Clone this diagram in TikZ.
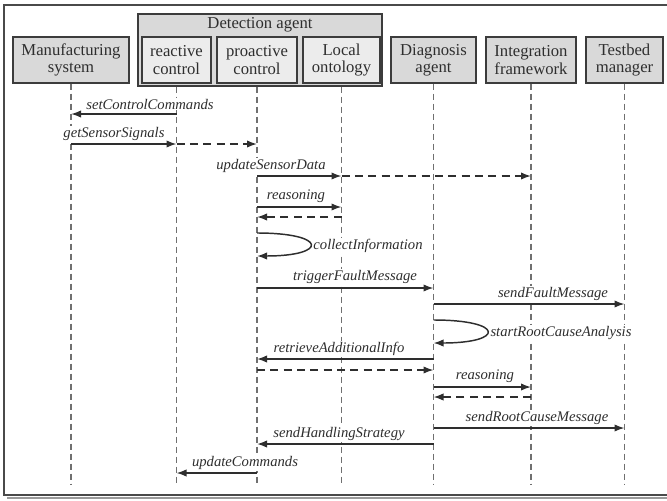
\documentclass[tikz,border=0pt]{standalone}
\usepackage{fontspec}
\setmainfont{Liberation Serif}
\usepackage{xcolor}
\usepackage{tikz}
\usetikzlibrary{arrows.meta}
\definecolor{boxline}{HTML}{3C3C3C}
\definecolor{lanefill}{HTML}{D9D9D9}
\definecolor{subfill}{HTML}{ECECEC}
\definecolor{lifegray}{HTML}{707070}
\definecolor{msgcol}{HTML}{2E2E2E}
\definecolor{framegray}{HTML}{4A4A4A}
\definecolor{shadowgray}{HTML}{9A9A9A}

\begin{document}
\begin{tikzpicture}[x=0.75pt,y=0.75pt,yscale=-1,xscale=1,
  lane/.style={draw=boxline,fill=lanefill,line width=0.8pt,align=center,inner sep=0pt,
    minimum height=34.5pt,font=\fontsize{12.5}{13}\selectfont,text=msgcol},
  sublane/.style={lane,fill=subfill},
  lifeline/.style={draw=lifegray,line width=0.8pt,dash pattern=on 4.5pt off 3pt},
  call/.style={draw=msgcol,line width=1.1pt,-{Latex[length=7.5pt,width=5.5pt]}},
  reply/.style={call,dash pattern=on 6pt off 4pt},
  msglbl/.style={font=\fontsize{11}{13}\selectfont\itshape,text=msgcol,fill=white,inner sep=1pt}]
\useasboundingbox (0,0) rectangle (667,500);
%Frame
\draw [draw=shadowgray,line width=2pt] (7,498) -- (680,498) ;
\draw [draw=framegray,line width=1.2pt] (680,5) -- (4,5) -- (4,495) -- (680,495) ;
% Lanes
\node [lane,minimum width=87pt] (ms) at (71,60) {Manufacturing\\system};
\node [lane,minimum width=183pt,minimum height=54pt] (det) at (260,50) {};
\node [font=\fontsize{12.5}{13}\selectfont,text=msgcol] (dettxt) at (260,25) {Detection agent};
\node [sublane,minimum width=51.75pt] (rc) at (176.5,60) {reactive\\control};
\node [sublane,minimum width=60pt] (pc) at (257,60) {proactive\\control};
\node [sublane,minimum width=57.75pt] (lo) at (341.5,60) {Local\\ontology};
\node [lane,minimum width=63.75pt] (da) at (433.5,60) {Diagnosis\\agent};
\node [lane,minimum width=67.5pt] (ifw) at (531,60) {Integration\\framework};
\node [lane,minimum width=57.75pt] (tm) at (624.5,60) {Testbed\\manager};
% Lifelines
\draw [lifeline] (ms.south) -- (ms |- 0,485) ;
\draw [lifeline] (rc |- det.south) -- (rc |- 0,485) ;
\draw [lifeline] (pc |- det.south) -- (pc |- 0,485) ;
\draw [lifeline] (lo |- det.south) -- (lo |- 0,485) ;
\draw [lifeline] (da.south) -- (da |- 0,485) ;
\draw [lifeline] (ifw.south) -- (ifw |- 0,485) ;
\draw [lifeline] (tm.south) -- (tm |- 0,485) ;
% Text Node
\node [msglbl] (m1) at (150,104) {setControlCommands};
\node [msglbl] (m2) at (114,134) {getSensorSignals};
\node [msglbl] (m3) at (271,166) {updateSensorData};
\node [msglbl] (m4) at (296,196) {reasoning};
\node [msglbl] (m5) at (368,246) {collectInformation};
\node [msglbl] (m6) at (355,277) {triggerFaultMessage};
\node [msglbl] (m7) at (553,294) {sendFaultMessage};
\node [msglbl] (m8) at (561,333) {startRootCauseAnalysis};
\node [msglbl] (m9) at (339,349) {retrieveAdditionalInfo};
\node [msglbl] (m10) at (485,376) {reasoning};
\node [msglbl] (m11) at (537,418) {sendRootCauseMessage};
\node [msglbl] (m12) at (339,434) {sendHandlingStrategy};
\node [msglbl] (m13) at (245,463) {updateCommands};
%Straight Lines
\draw [call] (rc |- 0,114) -- (ms |- 0,114) ;
\draw [call] (ms |- 0,144) -- (rc |- 0,144) ;
\draw [reply] (rc |- 0,144) -- (pc |- 0,144) ;
\draw [call] (pc |- 0,176) -- (lo |- 0,176) ;
\draw [reply] (lo |- 0,176) -- (ifw |- 0,176) ;
\draw [call] (pc |- 0,207) -- (lo |- 0,207) ;
\draw [reply] (lo |- 0,217) -- (pc |- 0,217) ;
%Curve Lines
\draw [call] (pc |- 0,233) .. controls (328,233) and (328,256) .. (pc |- 0,256) ;
\draw [call] (pc |- 0,288) -- (da |- 0,288) ;
\draw [call] (da |- 0,304) -- (tm |- 0,304) ;
%Curve Lines
\draw [call] (da |- 0,320) .. controls (505,320) and (505,343) .. (da |- 0,343) ;
\draw [call] (da |- 0,359) -- (pc |- 0,359) ;
\draw [reply] (pc |- 0,370) -- (da |- 0,370) ;
\draw [call] (da |- 0,387) -- (ifw |- 0,387) ;
\draw [reply] (ifw |- 0,397) -- (da |- 0,397) ;
\draw [call] (da |- 0,428) -- (tm |- 0,428) ;
\draw [call] (da |- 0,444) -- (pc |- 0,444) ;
\draw [call] (pc |- 0,473) -- (rc |- 0,473) ;
\end{tikzpicture}
\end{document}
